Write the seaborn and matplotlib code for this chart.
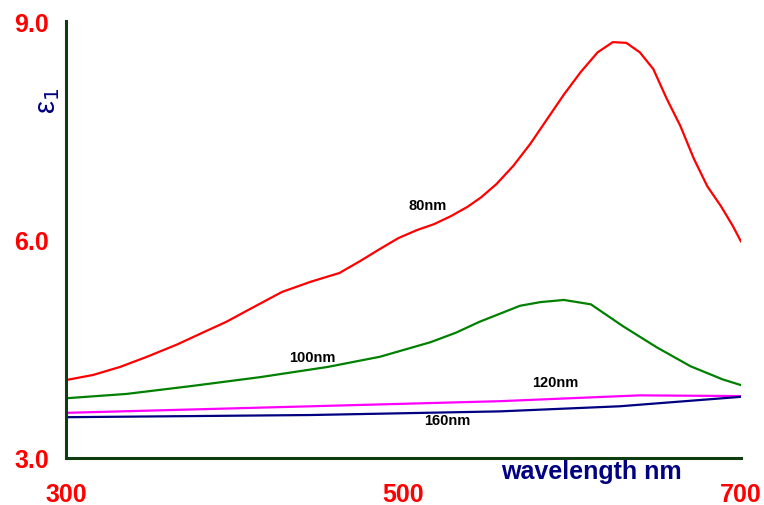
import matplotlib
matplotlib.use("Agg")
import matplotlib.pyplot as plt
import pandas as pd
import seaborn as sns

# data
wl_80 = [300, 316, 332, 348, 366, 379, 395, 411, 428, 445, 462, 474, 486, 497,
         508, 518, 528, 538, 546, 555, 565, 575, 585, 595, 605, 615, 624, 632, 640,
         648, 656, 664, 672, 680, 688, 695, 700]
eps_80 = [4.07, 4.14, 4.25, 4.39, 4.56, 4.70, 4.87, 5.07, 5.28, 5.42, 5.54, 5.70,
          5.87, 6.02, 6.13, 6.21, 6.32, 6.45, 6.58, 6.76, 7.01, 7.31, 7.65, 7.99,
          8.30, 8.57, 8.71, 8.70, 8.57, 8.34, 7.93, 7.56, 7.11, 6.73, 6.46, 6.19, 5.97]

wl_100 = [300, 336, 375, 415, 455, 486, 516, 531, 545, 569, 581, 595, 611, 630,
          650, 670, 689, 700]
eps_100 = [3.82, 3.88, 3.99, 4.11, 4.25, 4.39, 4.59, 4.72, 4.87, 5.09, 5.14, 5.17,
           5.11, 4.81, 4.52, 4.26, 4.08, 4.00]

wl_120 = [300, 445, 557, 640, 700]
eps_120 = [3.62, 3.71, 3.78, 3.86, 3.85]

wl_160 = [300, 445, 557, 628, 700]
eps_160 = [3.56, 3.59, 3.64, 3.71, 3.84]

sizes = ["80nm", "100nm", "120nm", "160nm"]
colors = ["#ff0000", "#008000", "#ff00ff", "#000080"]
label_pos = [(514, 6.47), (446, 4.39), (590, 4.04), (526, 3.52)]

frames = []
for name, wl, eps in zip(sizes, [wl_80, wl_100, wl_120, wl_160], [eps_80, eps_100, eps_120, eps_160]):
    frames.append(pd.DataFrame({"wavelength": wl, "eps": eps, "size": name}))
df = pd.concat(frames, ignore_index=True)

sns.set_style("white")
plt.rcParams["font.family"] = ["Liberation Sans", "DejaVu Sans"]

fig = plt.figure(figsize=(7.64, 5.06), dpi=100)
ax = fig.add_axes([0.0864, 0.0929, 0.8836, 0.8636])

sns.lineplot(data=df, x="wavelength", y="eps", hue="size", hue_order=sizes,
             palette=colors, linewidth=1.6, legend=False, ax=ax, sort=False)

for name, (x, y) in zip(sizes, label_pos):
    ax.text(x, y, name, fontsize=10.5, fontweight="bold", color="black",
            ha="center", va="center")

ax.set_xlim(300, 700)
ax.set_ylim(3.0, 9.0)
ax.set_xticks([300, 500, 700])
ax.set_yticks([3.0, 6.0, 9.0])
ax.set_yticklabels(["3.0", "6.0", "9.0"])
ax.set_xlabel("")
ax.set_ylabel("")

spine_col = "#0f3d0f"
for s in ["top", "right"]:
    ax.spines[s].set_visible(False)
for s in ["left", "bottom"]:
    ax.spines[s].set_color(spine_col)
    ax.spines[s].set_linewidth(2.2)

ax.tick_params(axis="both", direction="out", length=6, width=2, color=spine_col,
               labelcolor="#ff0000", labelsize=18)
ax.tick_params(axis="x", pad=11)
ax.tick_params(axis="y", pad=6)
for lab in ax.get_xticklabels() + ax.get_yticklabels():
    lab.set_fontweight("bold")

ax.text(0.645, -0.002, "wavelength nm", transform=ax.transAxes, fontsize=18,
        fontweight="bold", color="#000080", ha="left", va="top")
fig.text(0.063, 0.80, "ε$_1$", fontsize=21, color="#000080", rotation=90,
         ha="center", va="center")

fig.savefig("out.png", dpi=100)
